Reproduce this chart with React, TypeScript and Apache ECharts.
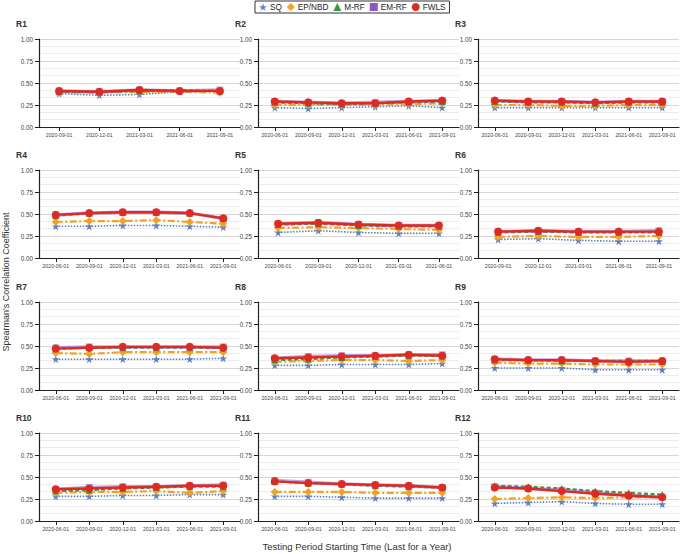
import React, { useEffect, useRef } from "react";
import * as echarts from "echarts";

const D6 = ["2020-06-01", "2020-09-01", "2020-12-01", "2021-03-01", "2021-06-01", "2021-09-01"];
const D5_SEP = ["2020-09-01", "2020-12-01", "2021-03-01", "2021-06-01", "2021-09-01"];
const D5_JUN = ["2020-06-01", "2020-09-01", "2020-12-01", "2021-03-01", "2021-06-01"];

const PANEL_NAMES = ["R1", "R2", "R3", "R4", "R5", "R6", "R7", "R8", "R9", "R10", "R11", "R12"];
const PANEL_DATES = [D5_SEP, D6, D6, D6, D5_JUN, D5_SEP, D6, D6, D6, D6, D6, D6];

const SERIES_NAMES = ["SQ", "EP/NBD", "M-RF", "EM-RF", "FWLS"];

const SQ_VALUES = [
  [0.38, 0.36, 0.37, 0.4, 0.4],
  [0.22, 0.21, 0.22, 0.23, 0.24, 0.22],
  [0.22, 0.22, 0.22, 0.22, 0.22, 0.22],
  [0.36, 0.36, 0.37, 0.37, 0.36, 0.35],
  [0.29, 0.31, 0.29, 0.28, 0.28],
  [0.21, 0.22, 0.2, 0.19, 0.19],
  [0.35, 0.35, 0.35, 0.35, 0.35, 0.36],
  [0.28, 0.28, 0.29, 0.29, 0.29, 0.3],
  [0.25, 0.25, 0.25, 0.23, 0.23, 0.23],
  [0.28, 0.28, 0.29, 0.29, 0.3, 0.3],
  [0.28, 0.28, 0.27, 0.26, 0.26, 0.26],
  [0.2, 0.21, 0.22, 0.2, 0.19, 0.19],
];
const EPNBD_VALUES = [
  [0.39, 0.39, 0.4, 0.4, 0.39],
  [0.25, 0.25, 0.25, 0.25, 0.26, 0.27],
  [0.25, 0.25, 0.24, 0.24, 0.25, 0.25],
  [0.41, 0.42, 0.42, 0.43, 0.41, 0.39],
  [0.34, 0.35, 0.34, 0.33, 0.32],
  [0.24, 0.25, 0.24, 0.24, 0.25],
  [0.42, 0.41, 0.43, 0.43, 0.43, 0.43],
  [0.32, 0.33, 0.34, 0.34, 0.33, 0.34],
  [0.31, 0.3, 0.3, 0.29, 0.29, 0.29],
  [0.32, 0.33, 0.33, 0.34, 0.32, 0.34],
  [0.33, 0.33, 0.33, 0.32, 0.32, 0.32],
  [0.25, 0.26, 0.27, 0.26, 0.27, 0.27],
];
const MRF_VALUES = [
  [0.4, 0.4, 0.41, 0.42, 0.41],
  [0.28, 0.27, 0.26, 0.27, 0.28, 0.29],
  [0.29, 0.28, 0.28, 0.27, 0.28, 0.28],
  [0.48, 0.51, 0.52, 0.52, 0.51, 0.45],
  [0.38, 0.39, 0.37, 0.36, 0.36],
  [0.29, 0.3, 0.29, 0.29, 0.29],
  [0.47, 0.48, 0.48, 0.48, 0.48, 0.48],
  [0.34, 0.35, 0.37, 0.38, 0.39, 0.39],
  [0.34, 0.34, 0.33, 0.33, 0.33, 0.33],
  [0.34, 0.35, 0.37, 0.38, 0.39, 0.39],
  [0.45, 0.43, 0.42, 0.4, 0.39, 0.38],
  [0.4, 0.39, 0.37, 0.34, 0.32, 0.3],
];
const EMRF_VALUES = [
  [0.41, 0.4, 0.42, 0.41, 0.42],
  [0.29, 0.28, 0.27, 0.28, 0.29, 0.3],
  [0.3, 0.29, 0.29, 0.28, 0.29, 0.29],
  [0.49, 0.51, 0.52, 0.52, 0.51, 0.45],
  [0.39, 0.4, 0.38, 0.37, 0.37],
  [0.3, 0.31, 0.3, 0.3, 0.31],
  [0.48, 0.49, 0.49, 0.49, 0.49, 0.49],
  [0.36, 0.38, 0.39, 0.39, 0.4, 0.4],
  [0.35, 0.34, 0.34, 0.33, 0.33, 0.33],
  [0.36, 0.38, 0.39, 0.39, 0.4, 0.41],
  [0.46, 0.44, 0.42, 0.41, 0.4, 0.38],
  [0.39, 0.37, 0.35, 0.32, 0.29, 0.27],
];
const FWLS_VALUES = [
  [0.41, 0.4, 0.42, 0.41, 0.41],
  [0.29, 0.28, 0.27, 0.27, 0.29, 0.3],
  [0.3, 0.29, 0.29, 0.28, 0.29, 0.29],
  [0.49, 0.51, 0.52, 0.52, 0.51, 0.45],
  [0.39, 0.4, 0.38, 0.37, 0.37],
  [0.3, 0.31, 0.3, 0.3, 0.3],
  [0.47, 0.48, 0.49, 0.49, 0.49, 0.48],
  [0.36, 0.37, 0.38, 0.39, 0.4, 0.39],
  [0.35, 0.34, 0.34, 0.33, 0.32, 0.33],
  [0.36, 0.37, 0.38, 0.39, 0.4, 0.4],
  [0.45, 0.43, 0.42, 0.41, 0.4, 0.38],
  [0.38, 0.37, 0.34, 0.31, 0.29, 0.27],
];

const Y_MIN = 0;
const Y_MAX = 1;
const Y_STEP = 0.25;

const X_TITLE = "Testing Period Starting Time (Last for a Year)";
const Y_TITLE = "Spearman's Correlation Coefficient";

const STAR = "path://M50,0 L61,35 L98,35 L68,57 L79,91 L50,70 L21,91 L32,57 L2,35 L39,35 Z";
const FONT = "Liberation Sans, Arial, Helvetica, sans-serif";

const STYLES = [
  { color: "#5d7fc9", type: [1.5, 1.5], width: 1.6, symbol: STAR, size: 8, opacity: 1 },
  { color: "#f5a11e", type: [7, 2.5, 2, 2.5], width: 2.2, symbol: "diamond", size: 8, opacity: 1 },
  { color: "#3a9a3a", type: [4, 2.5], width: 2.2, symbol: "triangle", size: 7, opacity: 1 },
  { color: "#8c55c8", type: "solid", width: 3.5, symbol: "rect", size: 7, opacity: 0.55 },
  { color: "#e0291f", type: "solid", width: 2.4, symbol: "circle", size: 8, opacity: 1 },
];
const LEGEND_ICONS = [STAR, "diamond", "triangle", "rect", "circle"];

const COL_LEFT = [39, 258, 478];
const ROW_TOP = [39, 170, 302, 433];
const GRID_W = 201;
const GRID_H = 88;

export default function App() {
  const ref = useRef<HTMLDivElement>(null);
  useEffect(() => {
    if (!ref.current) return;
    const chart = echarts.init(ref.current, null, { renderer: "svg" });
    const grids: any[] = [];
    const xAxes: any[] = [];
    const yAxes: any[] = [];
    const titles: any[] = [];
    const series: any[] = [];
    const valueSets = [SQ_VALUES, EPNBD_VALUES, MRF_VALUES, EMRF_VALUES, FWLS_VALUES];
    PANEL_NAMES.forEach((name, i) => {
      const r = Math.floor(i / 3);
      const c = i % 3;
      grids.push({ left: COL_LEFT[c], top: ROW_TOP[r], width: GRID_W, height: GRID_H, containLabel: false });
      titles.push({
        text: name,
        left: COL_LEFT[c] - 23,
        top: ROW_TOP[r] - 20,
        padding: 0,
        textStyle: { fontSize: 8.5, fontWeight: "bold", color: "#333", fontFamily: FONT },
      });
      xAxes.push({
        type: "category",
        gridIndex: i,
        data: PANEL_DATES[i],
        boundaryGap: true,
        axisLine: { show: true, lineStyle: { color: "#222", width: 1.2 } },
        axisTick: { show: true, alignWithLabel: true, length: 4, lineStyle: { color: "#222" } },
        axisLabel: { fontSize: 5.2, color: "#444", interval: 0, margin: 5, fontFamily: FONT },
        splitLine: { show: false },
      });
      yAxes.push({
        type: "value",
        gridIndex: i,
        min: Y_MIN,
        max: Y_MAX,
        interval: Y_STEP,
        axisLine: { show: true, lineStyle: { color: "#222", width: 1.2 } },
        axisTick: { show: true, length: 4, lineStyle: { color: "#222" } },
        axisLabel: {
          fontSize: 6.3,
          color: "#444",
          margin: 6,
          fontFamily: FONT,
          formatter: (v: number) => v.toFixed(2),
        },
        splitLine: { show: true, lineStyle: { color: "#d6d6d6", width: 1.2 } },
        minorTick: { show: false, splitNumber: 3 },
        minorSplitLine: { show: true, lineStyle: { color: "#ececec", width: 1 } },
      });
      SERIES_NAMES.forEach((sname, k) => {
        const st = STYLES[k];
        series.push({
          type: "line",
          name: sname,
          xAxisIndex: i,
          yAxisIndex: i,
          data: valueSets[k][i],
          symbol: st.symbol,
          symbolSize: st.size,
          z: 2 + k,
          lineStyle: { color: st.color, type: st.type, width: st.width, opacity: st.opacity },
          itemStyle: { color: st.color, opacity: st.opacity },
          emphasis: { disabled: true },
        });
      });
    });
    chart.setOption({
      animation: false,
      backgroundColor: "#ffffff",
      textStyle: { fontFamily: FONT },
      title: titles,
      grid: grids,
      xAxis: xAxes,
      yAxis: yAxes,
      series,
      legend: {
        left: 255,
        top: 1,
        padding: [2, 4, 2, 4],
        borderColor: "#333",
        borderWidth: 1,
        itemGap: 5,
        itemWidth: 8,
        itemHeight: 8,
        textStyle: { fontSize: 8.2, color: "#222", fontFamily: FONT, padding: [0, 0, 0, -2] },
        data: SERIES_NAMES.map((n, k) => ({ name: n, icon: LEGEND_ICONS[k], itemStyle: { color: STYLES[k].color, opacity: 1 } })),
      },
      graphic: [
        {
          type: "text",
          x: 6,
          y: 282,
          rotation: Math.PI / 2,
          style: {
            text: Y_TITLE,
            fontSize: 9,
            fill: "#333",
            fontFamily: FONT,
            align: "center",
            verticalAlign: "middle",
          },
        },
        {
          type: "text",
          x: 357,
          y: 546,
          style: {
            text: X_TITLE,
            fontSize: 9.5,
            fill: "#333",
            fontFamily: FONT,
            align: "center",
            verticalAlign: "middle",
          },
        },
      ],
    });
    return () => chart.dispose();
  }, []);
  return (
    <div
      ref={ref}
      style={{ position: "fixed", left: 0, top: 0, width: 685, height: 554, background: "#fff" }}
    />
  );
}
